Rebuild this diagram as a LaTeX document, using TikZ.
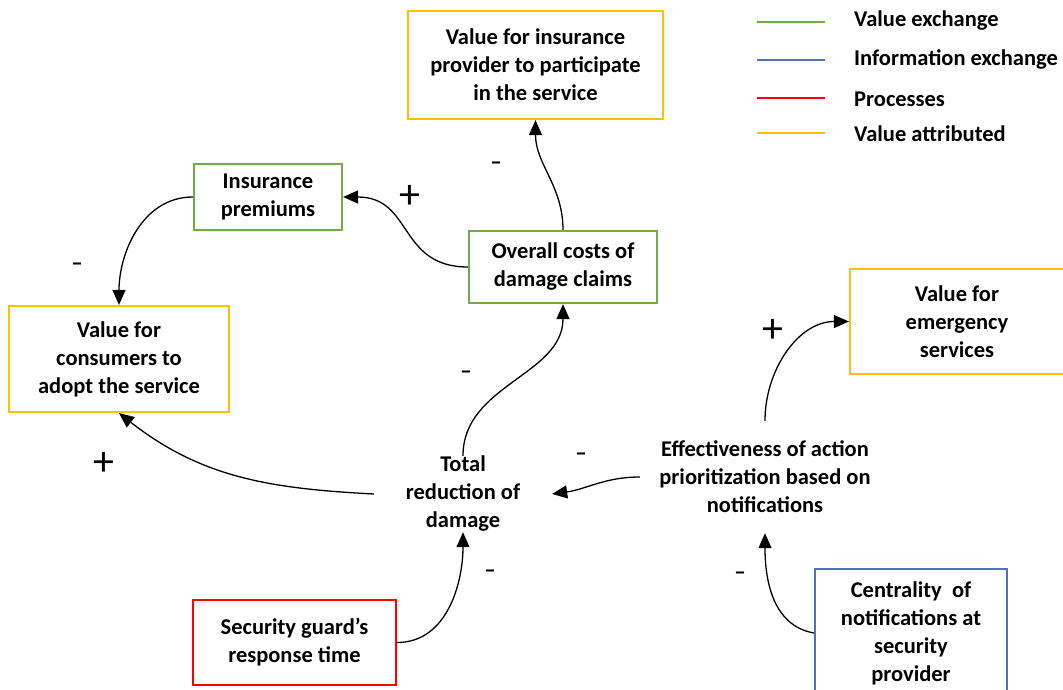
\documentclass[tikz,border=0pt]{standalone}
\usepackage{fontspec}
\setmainfont{Carlito}
\usetikzlibrary{arrows.meta}
\definecolor{valgreen}{HTML}{70AD47}
\definecolor{valyellow}{HTML}{FFC000}
\definecolor{procred}{HTML}{FF0000}
\definecolor{infoblue}{HTML}{4F71B5}

\begin{document}
\begin{tikzpicture}[x=1pt,y=-1pt,
  every node/.style={font=\fontsize{22.5}{28}\selectfont\bfseries, align=center, inner sep=0pt},
  box/.style={draw, line width=2.2pt, fill=white},
  valuebox/.style={box, draw=valgreen},
  attrbox/.style={box, draw=valyellow},
  procbox/.style={box, draw=procred},
  infobox/.style={box, draw=infoblue},
  link/.style={line width=1.3pt, -{Triangle[length=15pt,width=13pt]}},
  legendline/.style={line width=2.2pt},
  plus/.style={font=\fontsize{42}{42}\selectfont},
  minus/.style={font=\fontsize{23}{23}\selectfont\bfseries}]
\useasboundingbox (0,0) rectangle (1063,690);
\clip (0,0) rectangle (1063,690);

% boxes
\node[attrbox, minimum width=255pt, minimum height=108pt] (insval) at (535.5,65)
  {Value for insurance\\provider to participate\\in the service};
\node[valuebox, minimum width=148pt, minimum height=66pt] (prem) at (268,197)
  {Insurance\\premiums};
\node[valuebox, minimum width=188pt, minimum height=72pt] (costs) at (563,267)
  {Overall costs of\\damage claims};
\node[attrbox, minimum width=220pt, minimum height=106pt] (cons) at (119,359)
  {Value for\\consumers to\\adopt the service};
\node[attrbox, minimum width=214pt, minimum height=105pt] (emerg) at (957,321.5)
  {Value for\\emergency\\services};
\node[procbox, minimum width=203pt, minimum height=85pt] (guard) at (294.5,642.5)
  {Security guard’s\\response time};
\node[infobox, minimum width=192pt, minimum height=128pt] (central) at (911,633)
  {Centrality~ of\\notifications at\\security\\provider};

% plain variables
\node[minimum width=178pt, minimum height=76pt] (total) at (463,494)
  {Total\\reduction of\\damage};
\node[minimum width=250pt, minimum height=112pt] (effect) at (765,477)
  {Effectiveness of action\\prioritization based on\\notifications};

% causal links
\draw[link] (costs.west) to[out=180,in=0,looseness=1.25] (prem.east);
\draw[link] (costs.north) to[out=90,in=-90] (insval.south);
\draw[link] (prem.west) to[out=180,in=90] (cons.north);
\draw[link] (total.north) to[out=90,in=-90] (costs.south);
\draw[link] (total.west) to[out=177,in=-38] (cons.south);
\draw[link] (effect.west) to[out=180,in=8] (total.east);
\draw[link] (effect.north) to[out=90,in=180] (emerg.west);
\draw[link] (central.west) to[out=170,in=-90] (effect.south);
\draw[link] (guard.east) to[out=0,in=-90] (total.south);

% polarity signs
\node[plus] (s1) at (410,197) {+};
\node[minus] (s2) at (496,166) {\textendash};
\node[minus] (s3) at (77,267) {\textendash};
\node[minus] (s4) at (466,375) {\textendash};
\node[plus] (s5) at (104,464) {+};
\node[minus] (s6) at (581,457) {\textendash};
\node[plus] (s7) at (773,331) {+};
\node[minus] (s8) at (740,576) {\textendash};
\node[minus] (s9) at (490,574) {\textendash};

% legend
\coordinate (l1a) at (757,22);  \coordinate (l1b) at (825,22);
\coordinate (l2a) at (757,60);  \coordinate (l2b) at (825,60);
\coordinate (l3a) at (757,98);  \coordinate (l3b) at (825,98);
\coordinate (l4a) at (757,133); \coordinate (l4b) at (825,133);
\draw[legendline, valgreen] (l1a) -- (l1b);
\draw[legendline, infoblue] (l2a) -- (l2b);
\draw[legendline, procred] (l3a) -- (l3b);
\draw[legendline, valyellow] (l4a) -- (l4b);
\node[anchor=west] (t1) at (854,21) {Value exchange};
\node[anchor=west] (t2) at (854,59) {Information exchange};
\node[anchor=west] (t3) at (854,99) {Processes};
\node[anchor=west] (t4) at (854,134) {Value attributed};
\end{tikzpicture}
\end{document}
